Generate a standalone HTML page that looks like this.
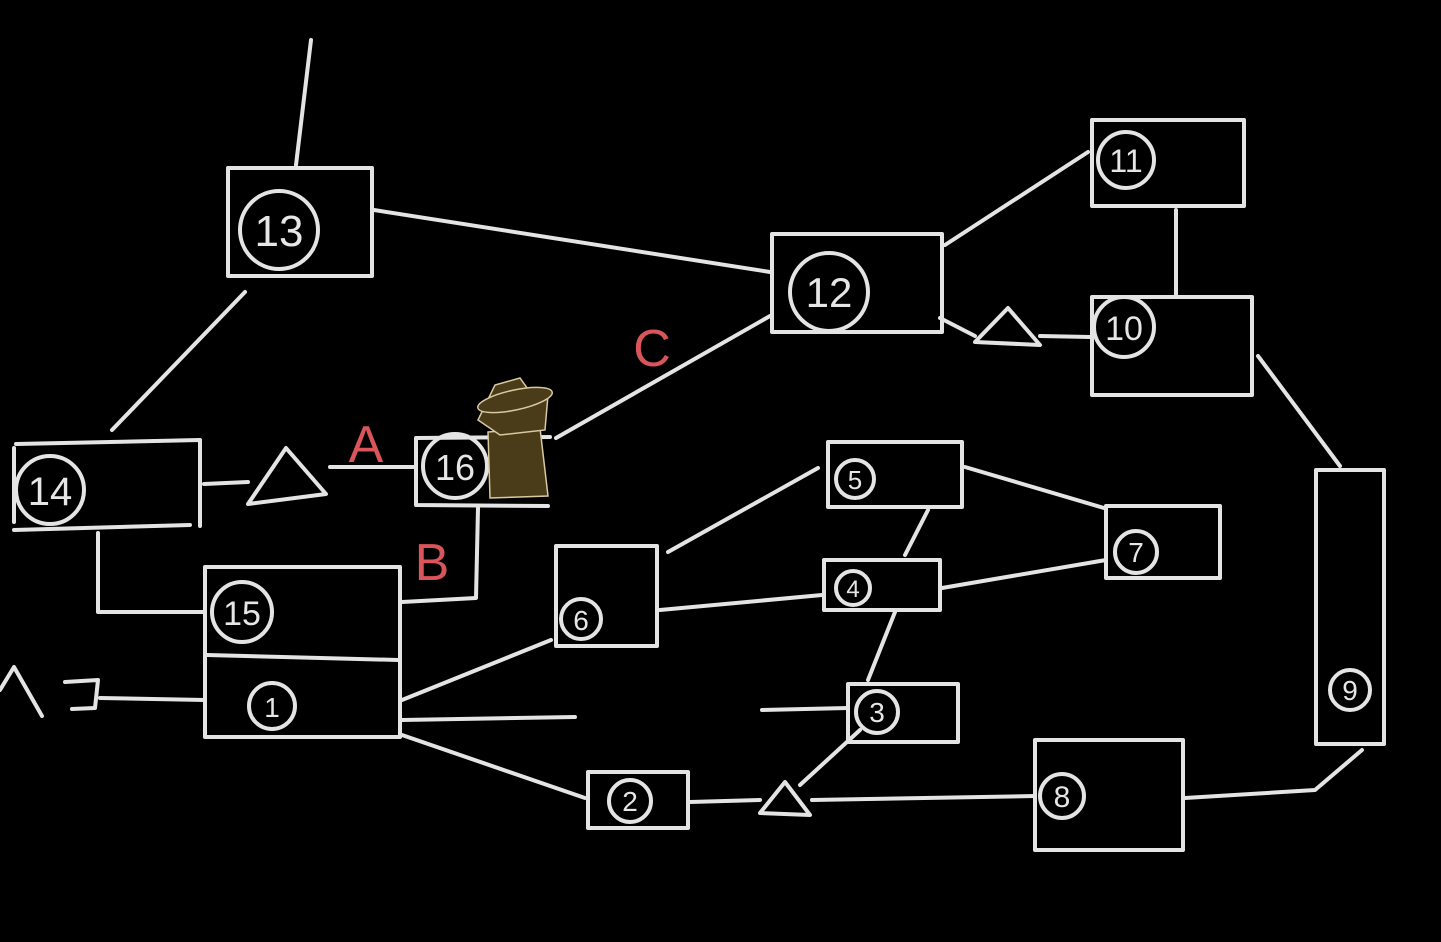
<!DOCTYPE html>
<html><head><meta charset="utf-8"><style>
html,body{margin:0;padding:0;background:#000;}
svg{display:block}
text{font-family:"Liberation Sans",sans-serif;fill:#e6e6e6;}
</style></head><body>
<svg width="1441" height="942" viewBox="0 0 1441 942" xmlns="http://www.w3.org/2000/svg">
<rect width="1441" height="942" fill="#000"/>
<g fill="none" stroke="#e4e4e4" stroke-width="4" stroke-linecap="round" stroke-linejoin="round">
<rect x="228" y="168" width="144" height="108"/>
<rect x="772" y="234" width="170" height="98"/>
<rect x="1092" y="120" width="152" height="86"/>
<rect x="1092" y="297" width="160" height="98"/>
<path d="M14 448 L14 522 M16 444 L200 440 L200 526 M14 530 L190 525"/>
<path d="M416 438 L550 437 M416 438 L416 505 L548 506"/>
<rect x="205" y="567" width="195" height="170"/>
<line x1="207" y1="655" x2="398" y2="660"/>
<rect x="556" y="546" width="101" height="100"/>
<rect x="828" y="442" width="134" height="65"/>
<rect x="824" y="560" width="116" height="50"/>
<rect x="848" y="684" width="110" height="58"/>
<rect x="1106" y="506" width="114" height="72"/>
<rect x="588" y="772" width="100" height="56"/>
<rect x="1035" y="740" width="148" height="110"/>
<rect x="1316" y="470" width="68" height="274"/>
<circle cx="279" cy="230" r="39"/>
<circle cx="829" cy="292" r="39"/>
<circle cx="1126" cy="160" r="28"/>
<circle cx="1124" cy="327" r="30"/>
<circle cx="50" cy="490" r="34"/>
<circle cx="455" cy="466" r="32"/>
<circle cx="242" cy="612" r="30"/>
<circle cx="272" cy="706" r="23"/>
<circle cx="581" cy="619" r="20"/>
<circle cx="855" cy="479" r="19"/>
<circle cx="853" cy="588" r="17"/>
<circle cx="877" cy="712" r="21"/>
<circle cx="1136" cy="552" r="21"/>
<circle cx="630" cy="801" r="21"/>
<circle cx="1062" cy="796" r="22"/>
<circle cx="1350" cy="690" r="20"/>
<line x1="296" y1="165" x2="311" y2="40"/>
<line x1="374" y1="210" x2="770" y2="272"/>
<line x1="245" y1="292" x2="112" y2="430"/>
<line x1="945" y1="245" x2="1088" y2="152"/>
<line x1="1176" y1="210" x2="1176" y2="294"/>
<path d="M940 318 L975 336 M975 342 L1008 308 L1040 345 Z M1040 336 L1090 337"/>
<line x1="1258" y1="356" x2="1340" y2="466"/>
<path d="M204 484 L248 482 M248 504 L286 448 L326 494 Z M330 467 L414 467"/>
<line x1="556" y1="438" x2="770" y2="316"/>
<path d="M478 508 L476 598 L402 602"/>
<path d="M98 533 L98 612 L205 612"/>
<path d="M0 690 L14 667 L42 716 M65 682 L98 680 L95 708 L72 709 M100 698 L205 700"/>
<line x1="402" y1="700" x2="551" y2="640"/>
<line x1="402" y1="720" x2="575" y2="717"/>
<line x1="402" y1="735" x2="585" y2="798"/>
<line x1="668" y1="552" x2="818" y2="468"/>
<line x1="660" y1="610" x2="822" y2="595"/>
<line x1="965" y1="467" x2="1104" y2="508"/>
<line x1="928" y1="510" x2="905" y2="555"/>
<line x1="942" y1="588" x2="1106" y2="560"/>
<line x1="895" y1="612" x2="868" y2="680"/>
<line x1="762" y1="710" x2="848" y2="708"/>
<path d="M690 802 L760 800 M760 813 L785 782 L810 815 Z M812 800 L1035 796"/>
<line x1="800" y1="785" x2="860" y2="730"/>
<path d="M1185 798 L1315 790 L1362 750"/>
</g>
<g text-anchor="middle">
<text x="279" y="246" font-size="44">13</text>
<text x="829" y="307" font-size="42">12</text>
<text x="1126" y="172" font-size="32">11</text>
<text x="1124" y="340" font-size="34">10</text>
<text x="50" y="505" font-size="40">14</text>
<text x="455" y="480" font-size="36">16</text>
<text x="242" y="625" font-size="34">15</text>
<text x="272" y="717" font-size="28">1</text>
<text x="581" y="630" font-size="28">6</text>
<text x="855" y="489" font-size="26">5</text>
<text x="853" y="597" font-size="24">4</text>
<text x="877" y="722" font-size="28">3</text>
<text x="1136" y="562" font-size="28">7</text>
<text x="630" y="811" font-size="28">2</text>
<text x="1062" y="807" font-size="30">8</text>
<text x="1350" y="700" font-size="28">9</text>
</g>
<g font-size="52" text-anchor="middle">
<text x="366" y="462" style="fill:#d9555a">A</text>
<text x="432" y="580" style="fill:#d9555a">B</text>
<text x="652" y="366" style="fill:#d9555a">C</text>
</g>
<g stroke="#d8c9a0" stroke-width="1.5">
<path d="M488 432 L540 428 L548 496 L490 498 Z" fill="#4a3c18"/>
<path d="M478 420 L495 385 L520 378 L530 392 L548 395 L545 430 L500 435 Z" fill="#4a3c18"/>
<ellipse cx="515" cy="400" rx="38" ry="10" fill="#4a3c18" transform="rotate(-12 515 400)"/>
</g>
</svg>
</body></html>
